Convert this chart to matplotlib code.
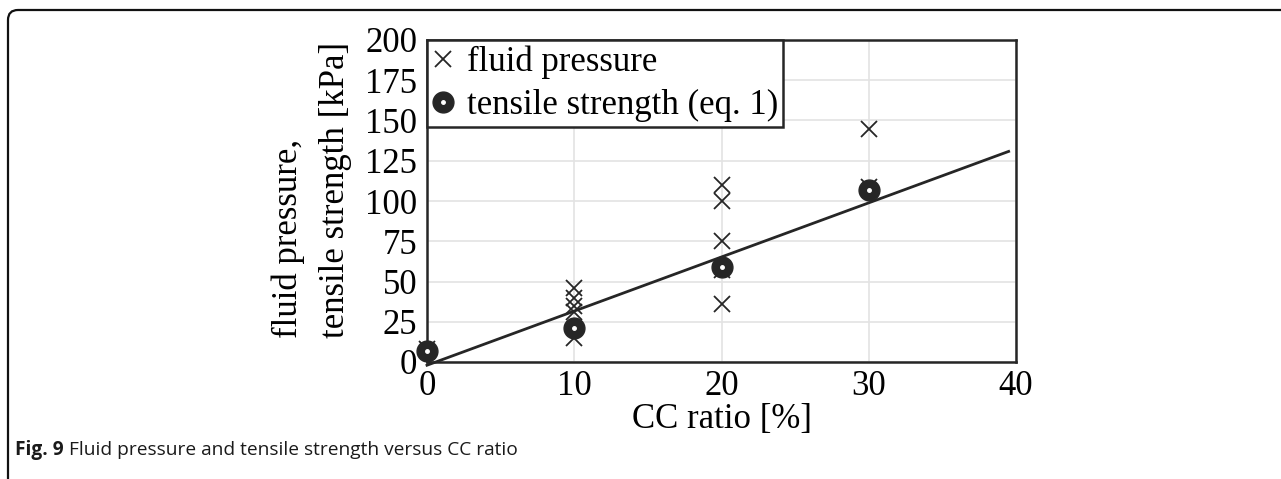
import matplotlib
matplotlib.use('Agg')
import matplotlib.pyplot as plt
from matplotlib.patches import FancyBboxPatch

# data
cc_fp = [0, 10, 10, 10, 10, 10, 20, 20, 20, 20, 20, 30, 30]
fluid_pressure = [8, 46, 40, 35, 31, 15, 110, 100, 75, 57, 36, 145, 109]

cc_ts = [0, 10, 20, 30]
tensile_strength = [7, 21, 59, 107]

trend_x = [0, 39.5]
trend_y = [-2, 130.8]

x_ticks = [0, 10, 20, 30, 40]
y_ticks = [0, 25, 50, 75, 100, 125, 150, 175, 200]

plt.rcParams['font.family'] = ['Liberation Serif', 'DejaVu Serif']
dark = '#262626'
fs = 25

fig = plt.figure(figsize=(12.81, 4.79), dpi=100)
ax = fig.add_axes([427 / 1281, 1 - 362 / 479, 589 / 1281, 322 / 479])

ax.plot(trend_x, trend_y, color=dark, lw=2, clip_on=False, zorder=3)
fp, = ax.plot(cc_fp, fluid_pressure, ls='none', marker='x', ms=11, mew=1.3,
              color=dark, clip_on=False, zorder=4)
ts, = ax.plot(cc_ts, tensile_strength, ls='none', marker='o', ms=15,
              color=dark, mec=dark, clip_on=False, zorder=5)
dot, = ax.plot(cc_ts, tensile_strength, ls='none', marker='o', ms=2.5,
               color='white', mec='white', clip_on=False, zorder=6)

ax.set_xlim(0, 40)
ax.set_ylim(0, 200)
ax.set_xticks(x_ticks)
ax.set_yticks(y_ticks)
ax.tick_params(length=0, labelsize=fs)
ax.tick_params(axis='y', pad=7)
ax.tick_params(axis='x', pad=6)
ax.grid(color='#e3e3e3', lw=1.2)
ax.set_axisbelow(True)
for s in ax.spines.values():
    s.set_color(dark)
    s.set_linewidth(1.8)

ax.set_xlabel('CC ratio [%]', fontsize=fs, labelpad=0)
ax.set_ylabel('fluid pressure,\ntensile strength [kPa]', fontsize=fs,
              linespacing=1.55, labelpad=6, multialignment='left')
ax.yaxis.set_label_coords(-0.127, 0.535)

leg = ax.legend([fp, (ts, dot)], ['fluid pressure', 'tensile strength (eq. 1)'],
                loc='upper left', bbox_to_anchor=(0, 1), borderaxespad=0,
                fontsize=fs, fancybox=False, framealpha=1, edgecolor=dark,
                handlelength=0.65, handletextpad=0.35, borderpad=0.15,
                labelspacing=0.3)
leg.get_frame().set_linewidth(1.8)

# outer frame of the figure panel (cut at right and bottom)
frame = FancyBboxPatch((8, -30), 1320, 469 + 30, boxstyle='round,pad=0,rounding_size=10',
                       transform=None, fill=False, ec='#111111', lw=1.6)
fig.patches.append(frame)

cap1 = fig.text(15 / 1281, 29 / 479, 'Fig. 9', family='Open Sans', weight='bold',
                fontsize=13.8, va='center', color='#1a1a1a')
r = fig.canvas.get_renderer()
bb = cap1.get_window_extent(r)
fig.text((bb.x1 + 5) / 1281, 29 / 479, 'Fluid pressure and tensile strength versus CC ratio',
         family='Open Sans', fontsize=13.8, va='center', color='#1a1a1a')

fig.savefig('out.png', dpi=100)
